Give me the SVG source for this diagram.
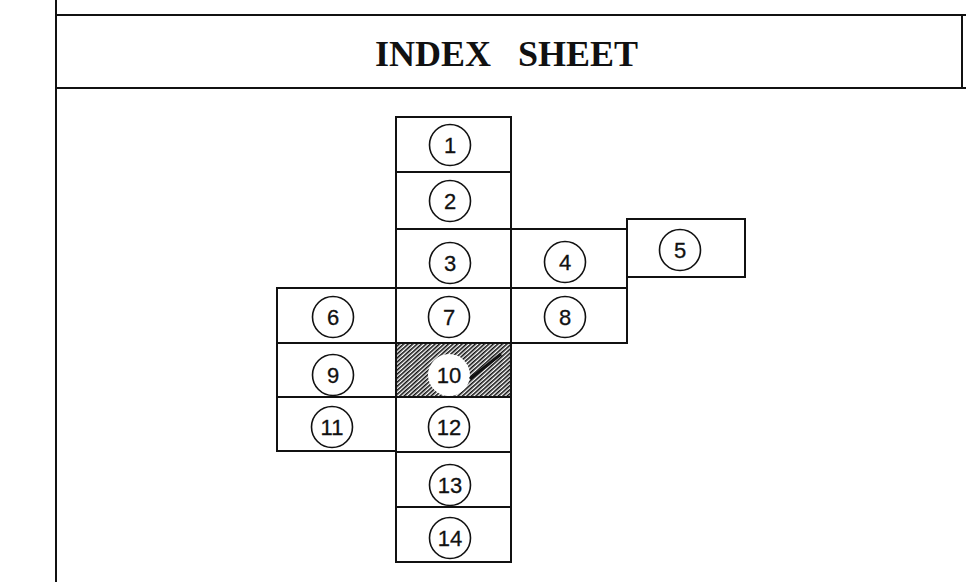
<svg xmlns="http://www.w3.org/2000/svg" width="966" height="582" viewBox="0 0 966 582">
<style>
.frame{stroke:#111;stroke-width:2;fill:none}
.box{stroke:#111;stroke-width:2;fill:none}
.c{stroke:#111;stroke-width:1.6;fill:#fff}
.n{font-family:"Liberation Sans",Arial,sans-serif;font-size:22px;fill:#111;stroke:#111;stroke-width:0.3;text-anchor:middle}
.title{font-family:"Liberation Serif","Times New Roman",serif;font-weight:bold;font-size:36px;fill:#111}
</style>
<defs>
<pattern id="hatch" patternUnits="userSpaceOnUse" width="3" height="3" patternTransform="rotate(48)">
<line x1="0.8" y1="0" x2="0.8" y2="3" stroke="#111" stroke-width="1.6"/>
</pattern>
</defs>
<rect width="966" height="582" fill="#fff"/>
<g id="frame">
<line class="frame" x1="56" y1="0" x2="56" y2="582"/>
<line class="frame" x1="56" y1="15" x2="966" y2="15"/>
<line class="frame" x1="56" y1="88" x2="966" y2="88"/>
<line class="frame" x1="962" y1="15" x2="962" y2="88"/>
<text class="title" x="375" y="66" word-spacing="18">INDEX SHEET</text>
</g>
<g id="sheet-1"><rect class="box" x="396" y="117" width="115" height="55"/><circle class="c" cx="450" cy="145" r="20.5"/><text class="n" x="450" y="153">1</text></g>
<g id="sheet-2"><rect class="box" x="396" y="172" width="115" height="57"/><circle class="c" cx="450" cy="201" r="20.5"/><text class="n" x="450" y="209">2</text></g>
<g id="sheet-3"><rect class="box" x="396" y="229" width="115" height="59"/><circle class="c" cx="450" cy="263" r="20.5"/><text class="n" x="450" y="271">3</text></g>
<g id="sheet-4"><rect class="box" x="511" y="229" width="116" height="59"/><circle class="c" cx="565" cy="262" r="20.5"/><text class="n" x="565" y="270">4</text></g>
<g id="sheet-5"><rect class="box" x="627" y="219" width="118" height="58"/><circle class="c" cx="680" cy="250" r="20.5"/><text class="n" x="680" y="258">5</text></g>
<g id="sheet-6"><rect class="box" x="277" y="288" width="119" height="55"/><circle class="c" cx="333" cy="317" r="20.5"/><text class="n" x="333" y="325">6</text></g>
<g id="sheet-7"><rect class="box" x="396" y="288" width="115" height="55"/><circle class="c" cx="449" cy="317" r="20.5"/><text class="n" x="449" y="325">7</text></g>
<g id="sheet-8"><rect class="box" x="511" y="288" width="116" height="55"/><circle class="c" cx="565" cy="317" r="20.5"/><text class="n" x="565" y="325">8</text></g>
<g id="sheet-9"><rect class="box" x="277" y="343" width="119" height="54"/><circle class="c" cx="333" cy="375" r="20.5"/><text class="n" x="333" y="383">9</text></g>
<g id="sheet-10"><rect x="396" y="343" width="115" height="54" fill="url(#hatch)"/><rect class="box" x="396" y="343" width="115" height="54"/><circle cx="449" cy="375" r="21" fill="#fff"/><text class="n" x="449" y="383">10</text></g>
<g id="sheet-11"><rect class="box" x="277" y="397" width="119" height="54"/><circle class="c" cx="332" cy="427" r="20.5"/><text class="n" x="332" y="435">11</text></g>
<g id="sheet-12"><rect class="box" x="396" y="397" width="115" height="55"/><circle class="c" cx="449" cy="427" r="20.5"/><text class="n" x="449" y="435">12</text></g>
<g id="sheet-13"><rect class="box" x="396" y="452" width="115" height="55"/><circle class="c" cx="450" cy="485" r="20.5"/><text class="n" x="450" y="493">13</text></g>
<g id="sheet-14"><rect class="box" x="396" y="507" width="115" height="55"/><circle class="c" cx="450" cy="538" r="20.5"/><text class="n" x="450" y="546">14</text></g>
<g id="connectors">
<line x1="470" y1="379" x2="501" y2="354" stroke="#111" stroke-width="3"/>
</g>
</svg>
